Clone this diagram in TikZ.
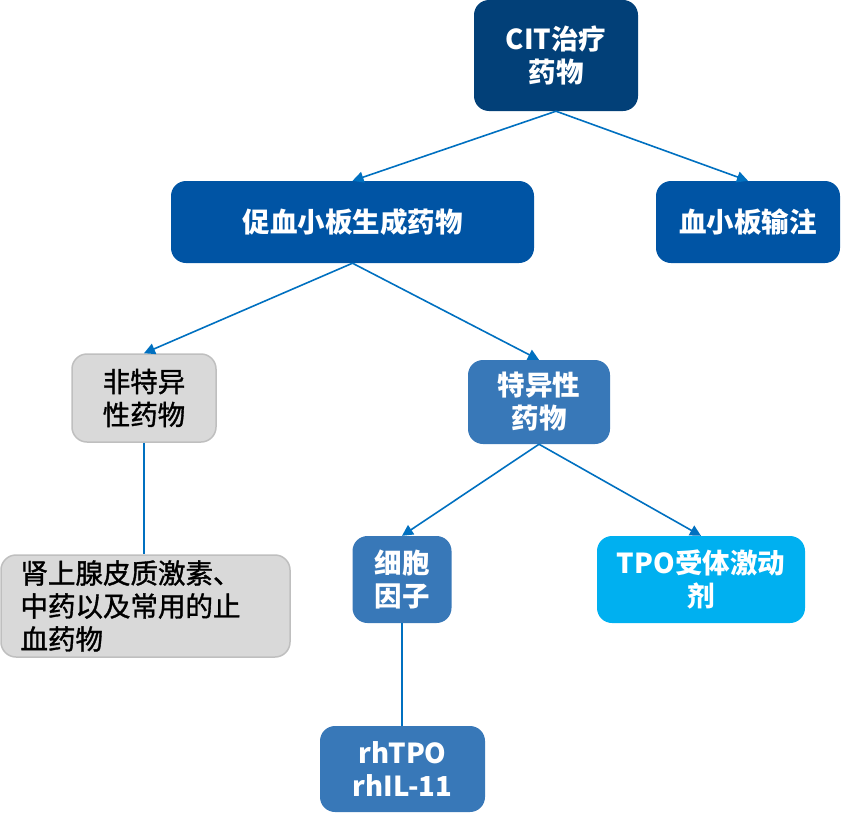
\documentclass[tikz,border=0pt]{standalone}
\usepackage{fontspec}
\setmainfont{Noto Sans CJK SC}
\newfontfamily\grayfont[FakeBold=1.2]{Noto Sans CJK SC}
\usepackage{tikz}
\usetikzlibrary{positioning,arrows.meta}
\usepackage{xcolor}
\definecolor{citnavy}{RGB}{2,64,120}
\definecolor{promblue}{RGB}{0,84,164}
\definecolor{specblue}{RGB}{56,120,184}
\definecolor{tpocyan}{RGB}{0,176,240}
\definecolor{boxgray}{RGB}{217,217,217}
\definecolor{graydraw}{RGB}{191,191,191}
\definecolor{linkblue}{RGB}{0,112,192}

\begin{document}
\begin{tikzpicture}[
    x=1pt, y=-1pt,
    box/.style={rounded corners=15pt, align=center, inner sep=0pt,
        font=\fontsize{27.5}{33}\selectfont\bfseries, text=white},
    navybox/.style={box, fill=citnavy},
    promobox/.style={box, fill=promblue},
    specbox/.style={box, fill=specblue},
    cyanbox/.style={box, fill=tpocyan},
    graybox/.style={box, fill=boxgray, draw=graydraw, line width=1.5pt, text=black,
        font=\fontsize{27.5}{33}\selectfont\grayfont},
    arr/.style={-{Triangle[length=11pt, width=11pt]}, draw=linkblue, line width=1.6pt},
    link/.style={draw=linkblue, line width=2pt}
]
\useasboundingbox (0,0) rectangle (842,816);

\node[navybox, minimum width=164pt, minimum height=111pt] (cit) at (556,55.5)
{CIT治疗\\药物};

\node[promobox, minimum width=363pt, minimum height=82pt] (promo) at (352.5,222)
{促血小板生成药物};

\node[promobox, minimum width=184pt, minimum height=82pt] (transfuse) at (748,222)
{血小板输注};

\node[graybox, minimum width=144pt, minimum height=88pt] (nonspec) at (144,398)
{非特异\\性药物};

\node[specbox, minimum width=142pt, minimum height=84pt] (spec) at (539,402)
{特异性\\药物};

\node[graybox, minimum width=289pt, minimum height=102pt, text width=250pt, align=left] (hormone) at (145.5,606)
{肾上腺皮质激素、\\中药以及常用的止\\血药物};

\node[specbox, minimum width=99pt, minimum height=87pt] (cyto) at (402,579.5)
{细胞\\因子};

\node[cyanbox, minimum width=208pt, minimum height=87pt] (tpora) at (701,579.5)
{TPO受体激动\\剂};

\node[specbox, minimum width=165pt, minimum height=86pt] (rhtpo) at (402.5,769)
{rhTPO\\rhIL-11};

\draw[arr] (cit.south) -- (promo.north);
\draw[arr] (cit.south) -- (transfuse.north);
\draw[arr] (promo.south) -- (nonspec.north);
\draw[arr] (promo.south) -- (spec.north);
\draw[arr] (spec.south) -- (cyto.north);
\draw[arr] (spec.south) -- (tpora.north);
\draw[link] (nonspec.south) -- (nonspec.south |- hormone.north);
\draw[link] (cyto.south) -- (cyto.south |- rhtpo.north);

\end{tikzpicture}
\end{document}
